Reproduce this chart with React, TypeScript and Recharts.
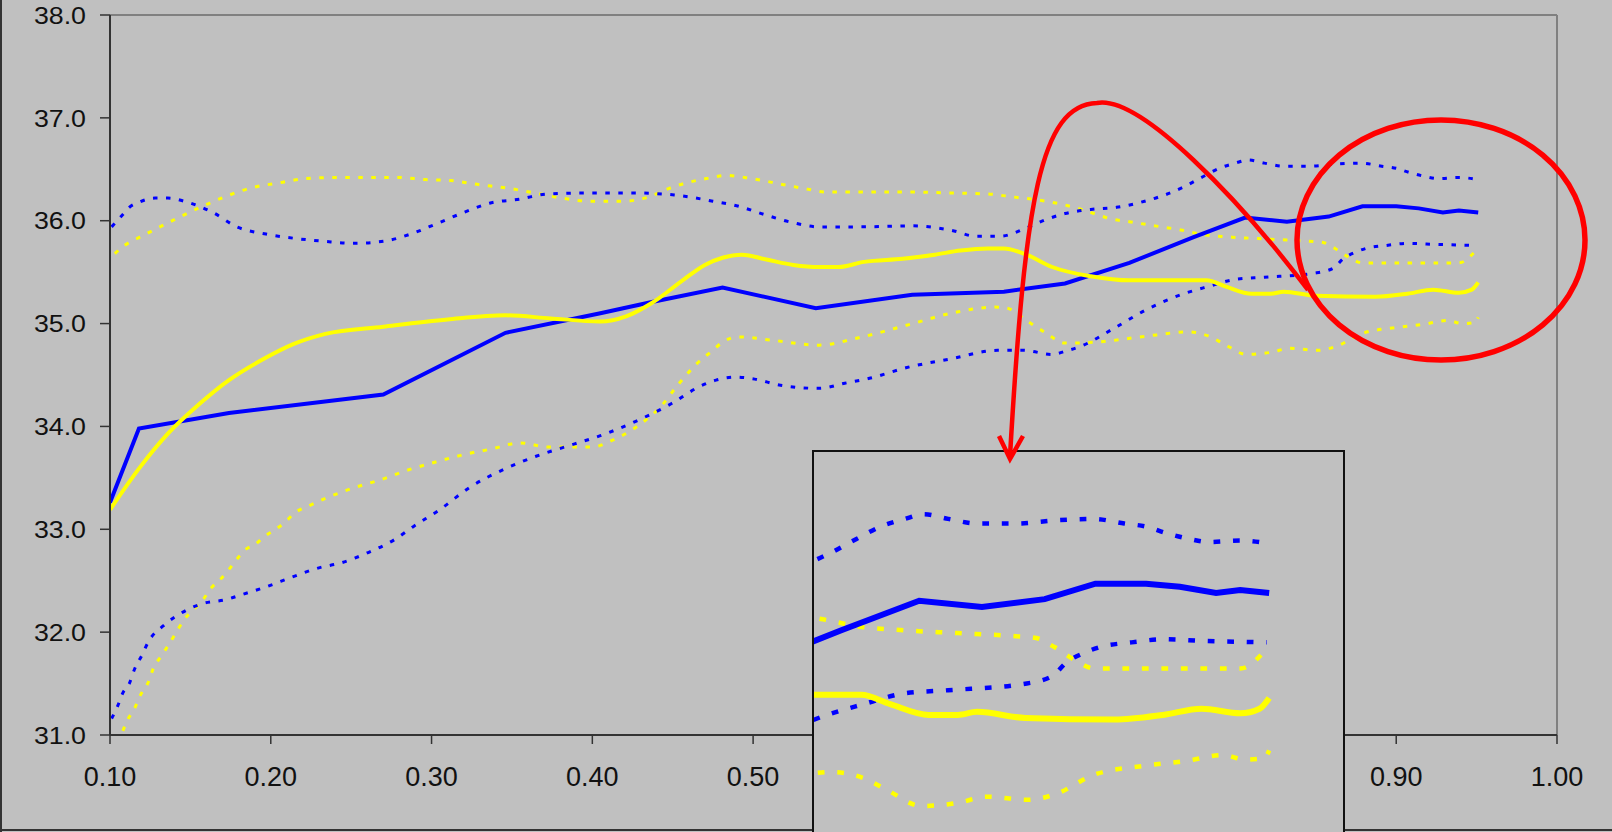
import React from 'react';
import { LineChart, Line, XAxis, YAxis, ReferenceLine } from 'recharts';

type Pt = [number, number];

const xTicks = [0.1, 0.2, 0.3, 0.4, 0.5, 0.6, 0.7, 0.8, 0.9, 1.0];
const yTicks = [31, 32, 33, 34, 35, 36, 37, 38];

// solid blue (mean)
const blueMean: Pt[] = [
  [0.100, 33.26], [0.118, 33.98], [0.174, 34.13], [0.270, 34.31], [0.346, 34.91],
  [0.405, 35.10], [0.437, 35.21], [0.481, 35.35], [0.539, 35.15], [0.599, 35.28],
  [0.656, 35.31], [0.694, 35.39], [0.734, 35.59], [0.774, 35.84], [0.806, 36.03],
  [0.832, 35.99], [0.858, 36.04], [0.879, 36.14], [0.900, 36.14], [0.914, 36.12],
  [0.929, 36.08], [0.939, 36.10], [0.951, 36.08],
];

// solid yellow (mean)
const yellowMean: Pt[] = [
  [0.100, 33.19], [0.118, 33.59], [0.136, 33.93], [0.155, 34.21], [0.174, 34.45],
  [0.196, 34.66], [0.214, 34.80], [0.234, 34.90], [0.270, 34.97], [0.310, 35.04],
  [0.346, 35.08], [0.374, 35.05], [0.405, 35.02], [0.421, 35.07], [0.437, 35.20],
  [0.457, 35.43], [0.470, 35.57], [0.481, 35.64], [0.493, 35.67], [0.509, 35.62],
  [0.525, 35.57], [0.541, 35.55], [0.553, 35.55], [0.569, 35.60], [0.593, 35.63],
  [0.613, 35.67], [0.629, 35.71], [0.646, 35.73], [0.656, 35.73], [0.670, 35.67],
  [0.686, 35.55], [0.710, 35.46], [0.734, 35.42], [0.782, 35.42], [0.794, 35.36],
  [0.810, 35.29], [0.822, 35.29], [0.830, 35.31], [0.850, 35.27], [0.887, 35.26],
  [0.907, 35.29], [0.923, 35.33], [0.939, 35.30], [0.947, 35.33], [0.951, 35.40],
];

// dotted blue, upper band
const blueUpper: Pt[] = [
  [0.101, 35.94], [0.108, 36.06], [0.112, 36.13], [0.118, 36.18], [0.128, 36.22],
  [0.136, 36.22], [0.146, 36.19], [0.164, 36.08], [0.179, 35.94], [0.197, 35.87],
  [0.214, 35.83], [0.233, 35.80], [0.251, 35.78], [0.270, 35.80], [0.287, 35.87],
  [0.303, 35.97], [0.320, 36.08], [0.336, 36.17], [0.355, 36.21], [0.372, 36.26],
  [0.398, 36.27], [0.425, 36.27], [0.451, 36.25], [0.475, 36.19], [0.491, 36.14],
  [0.507, 36.06], [0.525, 35.98], [0.541, 35.94], [0.565, 35.94], [0.599, 35.95],
  [0.625, 35.90], [0.638, 35.85], [0.654, 35.85], [0.670, 35.93], [0.682, 36.01],
  [0.694, 36.07], [0.710, 36.11], [0.726, 36.13], [0.746, 36.20], [0.756, 36.25],
  [0.768, 36.33], [0.780, 36.43], [0.790, 36.51], [0.800, 36.56], [0.808, 36.59],
  [0.818, 36.56], [0.830, 36.53], [0.846, 36.53], [0.862, 36.55], [0.878, 36.56],
  [0.891, 36.53], [0.900, 36.51], [0.908, 36.47], [0.918, 36.43], [0.926, 36.41],
  [0.939, 36.42], [0.951, 36.40],
];

// dotted blue, lower band
const blueLower: Pt[] = [
  [0.101, 31.16], [0.105, 31.29], [0.108, 31.41], [0.112, 31.50], [0.115, 31.63],
  [0.120, 31.78], [0.124, 31.91], [0.133, 32.06], [0.146, 32.20], [0.156, 32.27],
  [0.173, 32.32], [0.181, 32.36], [0.197, 32.44], [0.214, 32.54], [0.231, 32.63],
  [0.243, 32.67], [0.260, 32.77], [0.277, 32.90], [0.289, 33.03], [0.305, 33.19],
  [0.324, 33.41], [0.346, 33.59], [0.365, 33.71], [0.389, 33.83], [0.405, 33.91],
  [0.427, 34.05], [0.449, 34.22], [0.467, 34.39], [0.477, 34.45], [0.489, 34.48],
  [0.501, 34.46], [0.517, 34.40], [0.541, 34.37], [0.557, 34.42], [0.573, 34.47],
  [0.595, 34.57], [0.624, 34.66], [0.652, 34.74], [0.668, 34.74], [0.686, 34.70],
  [0.694, 34.73], [0.704, 34.78], [0.724, 34.95], [0.744, 35.13], [0.766, 35.28],
  [0.783, 35.36], [0.800, 35.43], [0.818, 35.45], [0.849, 35.49], [0.861, 35.54],
  [0.867, 35.63], [0.874, 35.69], [0.881, 35.73], [0.894, 35.76], [0.907, 35.78],
  [0.924, 35.77], [0.950, 35.76],
];

// dotted yellow, upper band
const yellowUpper: Pt[] = [
  [0.103, 35.68], [0.109, 35.76], [0.116, 35.82], [0.126, 35.90], [0.140, 36.01],
  [0.156, 36.13], [0.171, 36.23], [0.188, 36.32], [0.206, 36.37], [0.222, 36.41],
  [0.242, 36.42], [0.279, 36.42], [0.296, 36.40], [0.312, 36.39], [0.330, 36.35],
  [0.346, 36.32], [0.364, 36.27], [0.381, 36.22], [0.398, 36.19], [0.419, 36.19],
  [0.435, 36.23], [0.447, 36.31], [0.459, 36.37], [0.471, 36.41], [0.483, 36.44],
  [0.499, 36.41], [0.519, 36.35], [0.533, 36.31], [0.545, 36.28], [0.597, 36.28],
  [0.621, 36.27], [0.646, 36.26], [0.662, 36.23], [0.678, 36.20], [0.692, 36.16],
  [0.702, 36.12], [0.712, 36.07], [0.722, 36.02], [0.734, 35.99], [0.750, 35.95],
  [0.766, 35.91], [0.782, 35.86], [0.798, 35.84], [0.822, 35.82], [0.846, 35.80],
  [0.854, 35.79], [0.862, 35.73], [0.870, 35.65], [0.879, 35.59], [0.939, 35.59],
  [0.950, 35.72],
];

// dotted yellow, lower band
const yellowLower: Pt[] = [
  [0.108, 31.04], [0.111, 31.15], [0.115, 31.25], [0.119, 31.39], [0.124, 31.52],
  [0.127, 31.65], [0.132, 31.77], [0.137, 31.89], [0.142, 32.02], [0.146, 32.12],
  [0.152, 32.22], [0.158, 32.32], [0.163, 32.43], [0.169, 32.52], [0.174, 32.61],
  [0.180, 32.73], [0.184, 32.80], [0.190, 32.85], [0.196, 32.93], [0.203, 33.00],
  [0.209, 33.07], [0.215, 33.16], [0.224, 33.23], [0.234, 33.30], [0.251, 33.40],
  [0.268, 33.48], [0.286, 33.58], [0.304, 33.66], [0.321, 33.73], [0.337, 33.78],
  [0.355, 33.84], [0.373, 33.80], [0.400, 33.80], [0.413, 33.87], [0.423, 33.95],
  [0.433, 34.06], [0.443, 34.20], [0.453, 34.40], [0.465, 34.61], [0.475, 34.74],
  [0.481, 34.82], [0.491, 34.87], [0.511, 34.84], [0.541, 34.79], [0.565, 34.86],
  [0.597, 34.99], [0.626, 35.11], [0.650, 35.16], [0.658, 35.15], [0.670, 35.03],
  [0.682, 34.91], [0.694, 34.81], [0.714, 34.82], [0.736, 34.86], [0.751, 34.89],
  [0.770, 34.92], [0.783, 34.88], [0.792, 34.81], [0.807, 34.70], [0.822, 34.72],
  [0.834, 34.76], [0.851, 34.74], [0.863, 34.78], [0.878, 34.90], [0.899, 34.96],
  [0.916, 34.99], [0.932, 35.03], [0.941, 35.00], [0.949, 35.01], [0.951, 35.06],
];

// zoomed inset window
const insetX: [number, number] = [0.762, 0.982];
const insetY: [number, number] = [34, 37];

const BLUE = '#0000FF';
const YELLOW = '#FFFF00';
const BG = '#C0C0C0';
const FONT = "'Liberation Sans', Arial, sans-serif";

const toRows = (pts: Pt[]) => pts.map(([x, y]) => ({ x, y }));

const series = [
  { key: 'yu', rows: toRows(yellowUpper), color: YELLOW, dotted: true, curve: 'monotone' },
  { key: 'yl', rows: toRows(yellowLower), color: YELLOW, dotted: true, curve: 'monotone' },
  { key: 'bu', rows: toRows(blueUpper), color: BLUE, dotted: true, curve: 'monotone' },
  { key: 'bl', rows: toRows(blueLower), color: BLUE, dotted: true, curve: 'monotone' },
  { key: 'bm', rows: toRows(blueMean), color: BLUE, dotted: false, curve: 'linear' },
  { key: 'ym', rows: toRows(yellowMean), color: YELLOW, dotted: false, curve: 'monotone' },
];

const YTick = ({ x, y, payload }: any) => (
  <g transform={`translate(${x},${y}) scale(1.07,0.97)`}>
    <text x={0} y={0} dy="0.36em" textAnchor="end" fontSize={25} fill="#111" fontFamily={FONT}>
      {Number(payload.value).toFixed(1)}
    </text>
  </g>
);

const XTick = ({ x, y, payload }: any) => (
  <text x={x} y={y} dy="0.36em" textAnchor="middle" fontSize={27} fill="#111" fontFamily={FONT}>
    {Number(payload.value).toFixed(2)}
  </text>
);

const renderLines = (zoom: number) =>
  series.map((s) => (
    <Line
      key={s.key}
      data={s.rows}
      dataKey="y"
      type={s.curve as any}
      stroke={s.color}
      strokeWidth={(s.dotted ? 3 : 4) * zoom}
      strokeDasharray={s.dotted ? `${4.5 * zoom} ${8.5 * zoom}` : undefined}
      dot={false}
      activeDot={false}
      isAnimationActive={false}
    />
  ));

export default function App() {
  return (
    <div
      style={{
        position: 'absolute', left: 0, top: 0, width: 1612, height: 832,
        overflow: 'hidden', background: BG, fontFamily: FONT,
      }}
    >
      {/* outer chart-area frame */}
      <div style={{ position: 'absolute', left: 0, top: 0, width: 2, height: 832, background: '#333' }} />
      <div style={{ position: 'absolute', left: 0, top: 829, width: 1612, height: 2, background: '#333' }} />

      <div style={{ position: 'absolute', left: 0, top: 0 }}>
        <LineChart width={1612} height={832} margin={{ top: 15, right: 55, bottom: 37, left: 0 }}>
          <XAxis
            type="number"
            dataKey="x"
            domain={[0.1, 1.0]}
            ticks={xTicks}
            interval={0}
            allowDataOverflow
            height={60}
            tickSize={9}
            tickMargin={32}
            axisLine={{ stroke: '#333', strokeWidth: 2 }}
            tickLine={{ stroke: '#333', strokeWidth: 1.5 }}
            tick={<XTick />}
          />
          <YAxis
            type="number"
            domain={[31, 38]}
            ticks={yTicks}
            interval={0}
            allowDataOverflow
            width={110}
            tickSize={10}
            tickMargin={14}
            axisLine={{ stroke: '#333', strokeWidth: 2 }}
            tickLine={{ stroke: '#333', strokeWidth: 1.5 }}
            tick={<YTick />}
          />
          <ReferenceLine y={38} stroke="#808080" strokeWidth={2} />
          <ReferenceLine x={1.0} stroke="#808080" strokeWidth={2} />
          {renderLines(1)}
        </LineChart>
      </div>

      {/* magnified inset */}
      <div style={{ position: 'absolute', left: 813, top: 451, width: 531, height: 470, background: BG, overflow: 'hidden' }}>
        <LineChart width={531} height={463} margin={{ top: 0, right: 0, bottom: 0, left: 0 }}>
          <XAxis type="number" dataKey="x" domain={insetX} allowDataOverflow hide />
          <YAxis type="number" domain={insetY} allowDataOverflow hide />
          {renderLines(1.5)}
        </LineChart>
      </div>
      <div
        style={{
          position: 'absolute', left: 812, top: 450, width: 533, height: 500,
          border: '2px solid #111', boxSizing: 'border-box',
        }}
      />

      {/* red annotations */}
      <svg width={1612} height={832} style={{ position: 'absolute', left: 0, top: 0, pointerEvents: 'none' }}>
        <ellipse cx={1441} cy={240} rx={144} ry={120} fill="none" stroke="#FF0000" strokeWidth={5.5} />
        <path
          d="M1308,290 C1240,200 1140,95 1097,103 C1040,105 1025,200 1010,456"
          fill="none"
          stroke="#FF0000"
          strokeWidth={4.5}
        />
        <path d="M999,436 L1010,459 L1023,436" fill="none" stroke="#FF0000" strokeWidth={4.5} strokeLinejoin="miter" />
      </svg>
    </div>
  );
}
